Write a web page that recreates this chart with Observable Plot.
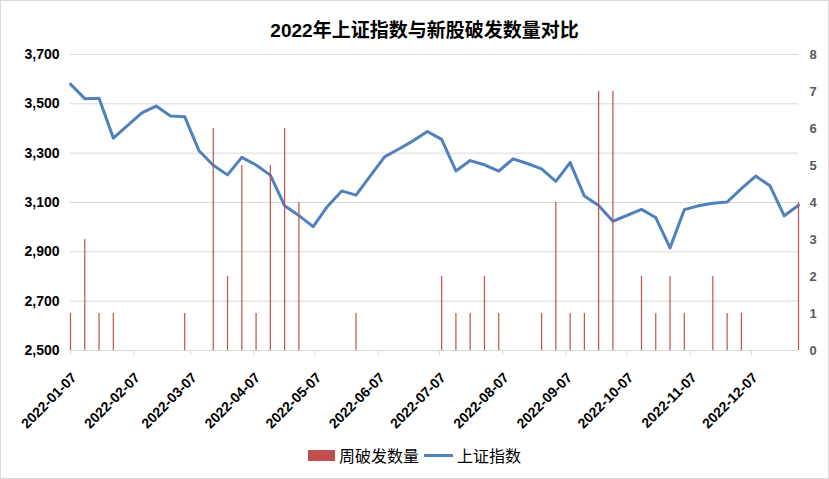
<!DOCTYPE html>
<html>
<head>
<meta charset="utf-8">
<script src="https://cdn.jsdelivr.net/npm/d3@7"></script>
<script src="https://cdn.jsdelivr.net/npm/@observablehq/plot@0.6"></script>
<style>
html, body { margin: 0; padding: 0; background: #fff; }
#chart { position: relative; width: 829px; height: 479px; box-sizing: border-box; outline: 1px solid #d9d9d9; outline-offset: -1px; background: #fff; font-family: "Liberation Sans", Arial, sans-serif; overflow: hidden; }
#title { height: 44px; box-sizing: border-box; padding-top: 21px; padding-left: 20px; text-align: center; font: bold 19px/20px "Liberation Sans", "Noto Sans CJK SC", sans-serif; color: #000; white-space: nowrap; }
#legend { position: absolute; left: 0; top: 445px; width: 829px; height: 21px; display: flex; justify-content: center; align-items: center; font: 16px/21px "Noto Sans CJK SC", sans-serif; color: #000; }
.sw { display: inline-block; width: 27px; height: 11px; background: #C0504D; margin-right: 4px; }
.ln { display: inline-block; width: 29px; height: 3px; background: #4F81BD; margin: 0 4px 0 5px; }
svg { display: block; }
</style>
</head>
<body>
<div id="chart">
  <div id="title">2022年上证指数与新股破发数量对比</div>
  <div id="plot"></div>
  <div id="legend"><span class="sw"></span><span>周破发数量</span><span class="ln"></span><span>上证指数</span></div>
</div>
<script>
// Weekly dates (last trading day of each week)
const dates = [
  "2022-01-07","2022-01-14","2022-01-21","2022-01-28",
  "2022-02-11","2022-02-18","2022-02-25",
  "2022-03-04","2022-03-11","2022-03-18","2022-03-25",
  "2022-04-01","2022-04-08","2022-04-15","2022-04-22","2022-04-29",
  "2022-05-06","2022-05-13","2022-05-20","2022-05-27",
  "2022-06-10","2022-06-17","2022-06-24",
  "2022-07-01","2022-07-08","2022-07-15","2022-07-22","2022-07-29",
  "2022-08-05","2022-08-12","2022-08-19","2022-08-26",
  "2022-09-02","2022-09-09","2022-09-16","2022-09-23","2022-09-30",
  "2022-10-14","2022-10-21","2022-10-28",
  "2022-11-04","2022-11-11","2022-11-18","2022-11-25",
  "2022-12-02","2022-12-09","2022-12-16","2022-12-23","2022-12-30"
];
// 上证指数 weekly close
const sseIndex = [
  3580, 3521, 3523, 3361,
  3463, 3491, 3451,
  3448, 3310, 3251, 3212,
  3283, 3252, 3211, 3087, 3047,
  3002, 3084, 3147, 3130,
  3285, 3317, 3350,
  3388, 3356, 3228, 3270, 3253,
  3227, 3277, 3258, 3236,
  3186, 3262, 3126, 3088, 3024,
  3072, 3039, 2916,
  3071, 3087, 3097, 3102,
  3156, 3207, 3168, 3046, 3089
];
// 周破发数量
const ipoBreaks = [
  1, 3, 1, 1,
  0, 0, 0,
  1, 0, 6, 2,
  5, 1, 5, 6, 4,
  0, 0, 0, 1,
  0, 0, 0,
  0, 2, 1, 1, 2,
  1, 0, 0, 1,
  4, 1, 1, 7, 7,
  2, 1, 2,
  1, 0, 2, 1,
  1, 0, 0, 0, 4
];
const leftTicks = [2500, 2700, 2900, 3100, 3300, 3500, 3700];
const rightTicks = [0, 1, 2, 3, 4, 5, 6, 7, 8];
const xTickLabels = [
  "2022-01-07","2022-02-07","2022-03-07","2022-04-07","2022-05-07","2022-06-07",
  "2022-07-07","2022-08-07","2022-09-07","2022-10-07","2022-11-07","2022-12-07"
];

const parse = d3.utcParse("%Y-%m-%d");
const yMin = leftTicks[0], yMax = leftTicks[leftTicks.length - 1];
const rMax = rightTicks[rightTicks.length - 1];
const ratio = (yMax - yMin) / rMax;
const rows = dates.map((d, i) => ({date: parse(d), sse: sseIndex[i], n: ipoBreaks[i]}));

const chart = Plot.plot({
  width: 829,
  height: 396,
  marginTop: 10,
  marginBottom: 90,
  marginLeft: 70,
  marginRight: 31,
  style: {fontFamily: '"Liberation Sans", Arial, sans-serif', background: "transparent", overflow: "visible"},
  x: {type: "utc", domain: [rows[0].date, rows[rows.length - 1].date], label: null},
  y: {domain: [yMin, yMax], label: null},
  marks: [
    Plot.gridY(leftTicks, {stroke: "#d9d9d9", strokeOpacity: 1, strokeWidth: 1}),
    Plot.axisY(leftTicks, {anchor: "left", tickSize: 0, tickPadding: 11, tickFormat: d3.format(","), fontSize: 14, fontWeight: "bold", fill: "#000", label: null}),
    Plot.axisY(rightTicks.map(k => yMin + k * ratio), {anchor: "right", tickSize: 0, tickPadding: 11, tickFormat: v => String(Math.round((v - yMin) / ratio)), fontSize: 13, fontWeight: "bold", fill: "#595959", textAnchor: "start", label: null}),
    Plot.axisX(xTickLabels.map(parse), {anchor: "bottom", tickSize: 5, stroke: "#d9d9d9", tickRotate: -45, tickPadding: 16, tickFormat: d3.utcFormat("%Y-%m-%d"), fontSize: 14, fontWeight: "bold", fill: "#000", textAnchor: "end", lineAnchor: "top", dx: 0, label: null}),
    Plot.line(rows, {x: "date", y: "sse", stroke: "#4F81BD", strokeWidth: 3, strokeLinejoin: "round", strokeLinecap: "round"}),
    Plot.ruleX(rows.filter(d => d.n > 0), {x: "date", y1: yMin, y2: d => yMin + d.n * ratio, stroke: "#C0504D", strokeWidth: 1.2})
  ]
});
document.getElementById("plot").appendChild(chart);
</script>
</body>
</html>
